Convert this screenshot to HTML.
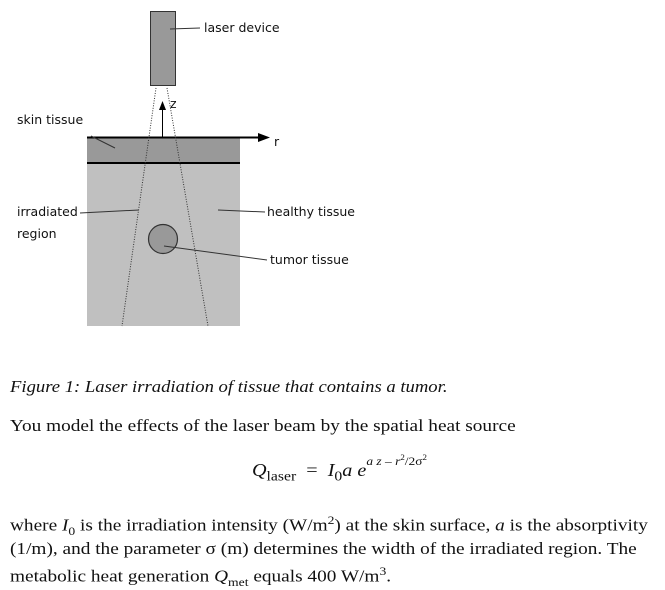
<!DOCTYPE html>
<html><head><style>
body{margin:0;width:665px;height:590px;background:#fff;position:relative;overflow:hidden;font-family:"Liberation Serif",serif;color:#111}
.t{position:absolute;white-space:nowrap}
.s{font-family:"DejaVu Sans","Liberation Sans",sans-serif;font-size:12.5px;color:#111}
.p{font-size:17px;left:10px;transform:scaleX(1.135);transform-origin:0 0}
i{font-style:italic}
</style></head><body>
<svg width="665" height="340" style="position:absolute;left:0;top:0">
<rect x="87" y="163" width="153" height="163" fill="#c0c0c0"/>
<rect x="87" y="137" width="153" height="26" fill="#999"/>
<line x1="87" y1="137.5" x2="262" y2="137.5" stroke="#000" stroke-width="2"/>
<polygon points="258,133 270,137.5 258,142" fill="#000"/>
<line x1="87" y1="163" x2="240" y2="163" stroke="#000" stroke-width="2"/>
<rect x="150.5" y="11.5" width="25" height="74" fill="#999" stroke="#333"/>
<line x1="156" y1="88" x2="122" y2="326" stroke="#333" stroke-dasharray="1,1.5"/>
<line x1="167" y1="88" x2="208" y2="326" stroke="#333" stroke-dasharray="1,1.5"/>
<line x1="162.5" y1="137" x2="162.5" y2="108" stroke="#000"/>
<polygon points="159,110 162.5,101 166,110" fill="#000"/>
<circle cx="163" cy="239" r="14.5" fill="#999" stroke="#333" stroke-width="1.2"/>
<g stroke="#333">
<line x1="170" y1="29" x2="200" y2="28"/>
<line x1="91" y1="136" x2="115" y2="148"/>
<line x1="80" y1="213" x2="139" y2="210"/>
<line x1="218" y1="210" x2="265" y2="212"/>
<line x1="164" y1="246" x2="267" y2="260"/>
</g>
</svg>
<div class="t s" style="left:204px;top:20px">laser device</div>
<div class="t s" style="left:170px;top:96px">z</div>
<div class="t s" style="left:17px;top:112px">skin tissue</div>
<div class="t s" style="left:274px;top:134px">r</div>
<div class="t s" style="left:17px;top:204px">irradiated</div>
<div class="t s" style="left:17px;top:226px">region</div>
<div class="t s" style="left:267px;top:204px">healthy tissue</div>
<div class="t s" style="left:270px;top:252px">tumor tissue</div>
<div class="t" style="left:10px;top:377px;font-size:16.5px;font-style:italic;transform:scaleX(1.13);transform-origin:0 0">Figure 1: Laser irradiation of tissue that contains a tumor.</div>
<div class="t p" style="top:416px">You model the effects of the laser beam by the spatial heat source</div>
<div class="t" style="left:252px;top:457px;font-size:18px;transform:scaleX(1.12);transform-origin:0 0"><i>Q</i><sub style="font-size:14px">laser</sub> &nbsp;= &nbsp;<i>I</i><sub style="font-size:14px">0</sub><i>a e</i><sup style="font-size:12px;position:relative;top:-4px"><i>a z</i> – <i>r</i><sup style="font-size:8px">2</sup>/2σ<sup style="font-size:8px">2</sup></sup></div>
<div class="t p" style="top:513px">where <i>I</i><sub style="font-size:12px">0</sub> is the irradiation intensity (W/m<sup style="font-size:12px">2</sup>) at the skin surface, <i>a</i> is the absorptivity</div>
<div class="t p" style="top:539px">(1/m), and the parameter σ (m) determines the width of the irradiated region. The</div>
<div class="t p" style="top:564px">metabolic heat generation <i>Q</i><sub style="font-size:12px">met</sub> equals 400 W/m<sup style="font-size:12px">3</sup>.</div>
</body></html>
